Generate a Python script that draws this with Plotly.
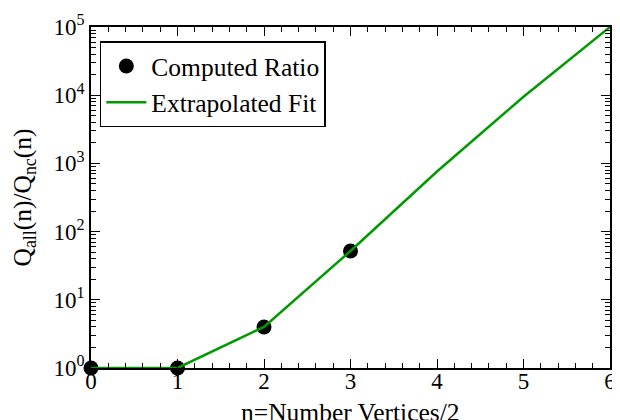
import plotly.graph_objects as go

# Data
n_computed = [0, 1, 2, 3]
ratio_computed = [1, 1, 4, 52]
n_fit = [0, 1, 2, 3, 4, 5, 6]
ratio_fit = [1, 1, 4, 52, 760, 9500, 100000]

y_tickvals = [1, 10, 100, 1000, 10000, 100000]
y_ticktext = ["10<sup>0</sup>", "10<sup>1</sup>", "10<sup>2</sup>", "10<sup>3</sup>",
              "10<sup>4</sup>", "10<sup>5</sup>"]
x_tickvals = [0, 1, 2, 3, 4, 5, 6]
x_title = "n=Number Vertices/2"
y_title = "Q<sub>all</sub>(n)/Q<sub>nc</sub>(n)"

GREEN = "#009a00"
FONT = "Times New Roman, Liberation Serif, serif"

fig = go.Figure()
fig.add_trace(go.Scatter(
    x=n_computed, y=ratio_computed, mode="markers", name="Computed Ratio",
    marker=dict(color="black", size=15), cliponaxis=False))
fig.add_trace(go.Scatter(
    x=n_fit, y=ratio_fit, mode="lines", name="Extrapolated Fit",
    line=dict(color=GREEN, width=2.5), cliponaxis=False))

# page body adds an 8px margin, so the figure is offset by 8px in the window
fig.update_layout(
    width=612, height=412,
    margin=dict(l=83, r=10, t=18.5, b=52, autoexpand=False),
    paper_bgcolor="white", plot_bgcolor="white",
    font=dict(family=FONT, size=24, color="black"),
    showlegend=True,
    legend=dict(x=0.017, y=0.9575, xanchor="left", yanchor="top",
                bordercolor="black", borderwidth=1.5, bgcolor="white",
                font=dict(family=FONT, size=25.5), itemwidth=40,
                tracegroupgap=0),
    xaxis=dict(
        range=[0, 6], tickvals=x_tickvals, ticks="inside", ticklen=9,
        tickwidth=1.2, tickcolor="black", showline=True, linecolor="black",
        linewidth=1.5, mirror="allticks", showgrid=False, zeroline=False,
        automargin=False, ticklabelstandoff=-8,
        tickfont=dict(family=FONT, size=23),
        minor=dict(ticks="inside", dtick=0.2, ticklen=5, tickwidth=1,
                   tickcolor="black", showgrid=False),
    ),
    yaxis=dict(
        type="log", range=[0, 5], tickvals=y_tickvals, ticktext=y_ticktext,
        ticks="inside", ticklen=9, tickwidth=1.2, tickcolor="black",
        showline=True, linecolor="black", linewidth=1.5, mirror="allticks",
        showgrid=False, zeroline=False, automargin=False,
        tickfont=dict(family=FONT, size=23),
        minor=dict(ticks="inside", dtick="D1", ticklen=5, tickwidth=1,
                   tickcolor="black", showgrid=False),
        title=dict(text=y_title, font=dict(family=FONT, size=25.5), standoff=22),
    ),
)

fig.add_annotation(
    text=x_title, xref="paper", yref="paper", x=0.5, y=0,
    xanchor="center", yanchor="top", yshift=-28, showarrow=False,
    font=dict(family=FONT, size=25.5, color="black"))

fig.write_html("out.html")
